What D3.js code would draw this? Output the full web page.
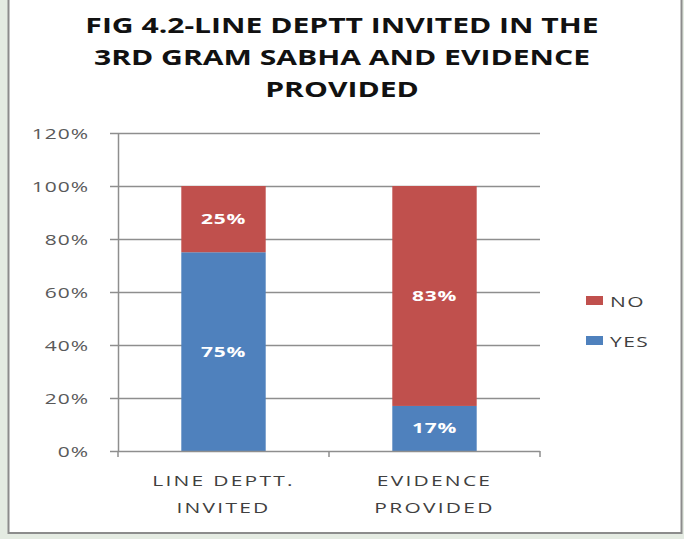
<!DOCTYPE html>
<html>
<head>
<meta charset="utf-8">
<script src="https://cdn.jsdelivr.net/npm/d3@7"></script>
<style>
  html, body { margin: 0; padding: 0; background: #e4ebe2; }
  svg { display: block; }
</style>
</head>
<body>
<div id="chart"></div>
<script>
var categories = [["LINE DEPTT.", "INVITED"], ["EVIDENCE", "PROVIDED"]];
var seriesNames = ["YES", "NO"];
var yesValues = [0.75, 0.17];
var noValues = [0.25, 0.83];
var yTicks = [0, 0.2, 0.4, 0.6, 0.8, 1.0, 1.2];
var titleLines = ["FIG 4.2-LINE DEPTT INVITED IN THE", "3RD GRAM SABHA AND EVIDENCE", "PROVIDED"];

var colors = {YES: "#4f81bd", NO: "#c0504d"};
var font = "'Open Sans', sans-serif";
var sx = 1.4; // the original picture is stretched sideways

var W = 684, H = 539;
var margin = {top: 133, left: 118, right: 144, bottom: 88};
var width = W - margin.left - margin.right,
    height = H - margin.top - margin.bottom;

var svg = d3.select("#chart").append("svg")
    .attr("width", W)
    .attr("height", H);

// white chart box
svg.append("rect")
    .attr("x", 8.5).attr("y", -5)
    .attr("width", 673).attr("height", 538)
    .attr("fill", "#fff")
    .attr("stroke", "#8c8c8c")
    .attr("stroke-width", 2);

function place(px, py) {
  return "translate(" + px + "," + py + ") scale(" + sx + ",1)";
}

// title
svg.append("g").selectAll("text")
    .data(titleLines)
  .enter().append("text")
    .attr("transform", function(d, i) { return place(342, 33 + i * 32); })
    .attr("text-anchor", "middle")
    .style("font-family", font)
    .style("font-weight", "bold")
    .style("font-size", "21.5px")
    .attr("fill", "#111")
    .text(function(d) { return d; });

var data = categories.map(function(c, i) {
  return {cat: i, YES: yesValues[i], NO: noValues[i]};
});

var x = d3.scaleBand()
    .domain(d3.range(categories.length))
    .range([0, width])
    .paddingInner(0.6)
    .paddingOuter(0.3);

var y = d3.scaleLinear().domain([0, 1.2]).range([height, 0]);

var g = svg.append("g")
    .attr("transform", "translate(" + margin.left + "," + margin.top + ")");

// gridlines
g.append("g").selectAll("line")
    .data(yTicks.slice(1))
  .enter().append("line")
    .attr("x1", 0).attr("x2", width)
    .attr("y1", function(d) { return Math.round(y(d)) + 0.5; })
    .attr("y2", function(d) { return Math.round(y(d)) + 0.5; })
    .attr("stroke", "#8e8e8e")
    .attr("stroke-width", 1.5);

var stack = d3.stack().keys(seriesNames);
var layers = stack(data);

g.append("g").selectAll("g")
    .data(layers)
  .enter().append("g")
    .attr("fill", function(d) { return colors[d.key]; })
  .selectAll("rect")
    .data(function(d) { return d; })
  .enter().append("rect")
    .attr("x", function(d) { return x(d.data.cat); })
    .attr("width", x.bandwidth())
    .attr("y", function(d) { return y(d[1]); })
    .attr("height", function(d) { return y(d[0]) - y(d[1]); });

// data labels
layers.forEach(function(layer) {
  g.append("g").selectAll("text")
      .data(layer)
    .enter().append("text")
      .attr("transform", function(d) {
        return place(x(d.data.cat) + x.bandwidth() / 2, y((d[0] + d[1]) / 2) + 5);
      })
      .attr("text-anchor", "middle")
      .style("font-family", font)
      .style("font-weight", "bold")
      .style("font-size", "15px")
      .style("letter-spacing", "0.5px")
      .attr("fill", "#fff")
      .text(function(d) { return Math.round((d[1] - d[0]) * 100) + "%"; });
});

// y axis
var yAxis = d3.axisLeft(y)
    .tickValues(yTicks)
    .tickSize(8)
    .tickFormat(d3.format(".0%"));

var ya = g.append("g").attr("class", "y-axis").call(yAxis);
ya.select(".domain").attr("stroke", "#8e8e8e").attr("stroke-width", 1.5)
    .attr("d", "M0.5," + height + "V0");
ya.selectAll(".tick line").attr("stroke", "#8e8e8e").attr("stroke-width", 1.5);
ya.selectAll(".tick text")
    .attr("x", 0)
    .attr("dy", "0.35em")
    .attr("transform", "translate(-29,0) scale(" + sx + ",1)")
    .style("font-family", font)
    .style("font-size", "15px")
    .style("letter-spacing", "0.7px")
    .attr("fill", "#595959");

// x axis
var xa = g.append("g")
    .attr("transform", "translate(0," + height + ")");
xa.append("line")
    .attr("x1", 0).attr("x2", width)
    .attr("y1", 0.5).attr("y2", 0.5)
    .attr("stroke", "#8e8e8e").attr("stroke-width", 1.5);
xa.selectAll(".xt")
    .data([0, width / 2, width])
  .enter().append("line")
    .attr("x1", function(d) { return d; }).attr("x2", function(d) { return d; })
    .attr("y1", 0).attr("y2", 6)
    .attr("stroke", "#8e8e8e").attr("stroke-width", 1.5);

xa.selectAll(".cat")
    .data(categories)
  .enter().append("text")
    .attr("text-anchor", "middle")
    .attr("transform", function(d, i) {
      return place(x(i) + x.bandwidth() / 2, 35);
    })
    .style("font-family", font)
    .style("font-size", "15px")
    .style("letter-spacing", "1.6px")
    .attr("fill", "#404040")
    .each(function(d) {
      var t = d3.select(this);
      d.forEach(function(line, j) {
        t.append("tspan").attr("x", 0).attr("dy", j === 0 ? 0 : 27).text(line);
      });
    });

// legend
var legend = svg.append("g").attr("transform", "translate(586,293)");
var legendItems = seriesNames.slice().reverse();
legendItems.forEach(function(name, i) {
  var row = legend.append("g").attr("transform", "translate(0," + (i * 40) + ")");
  row.append("rect")
      .attr("width", 17).attr("height", 9)
      .attr("y", 3)
      .attr("fill", colors[name]);
  row.append("text")
      .attr("transform", place(24, 14))
      .style("font-family", font)
      .style("font-size", "15px")
      .style("letter-spacing", "1px")
      .attr("fill", "#404040")
      .text(name);
});
</script>
</body>
</html>
